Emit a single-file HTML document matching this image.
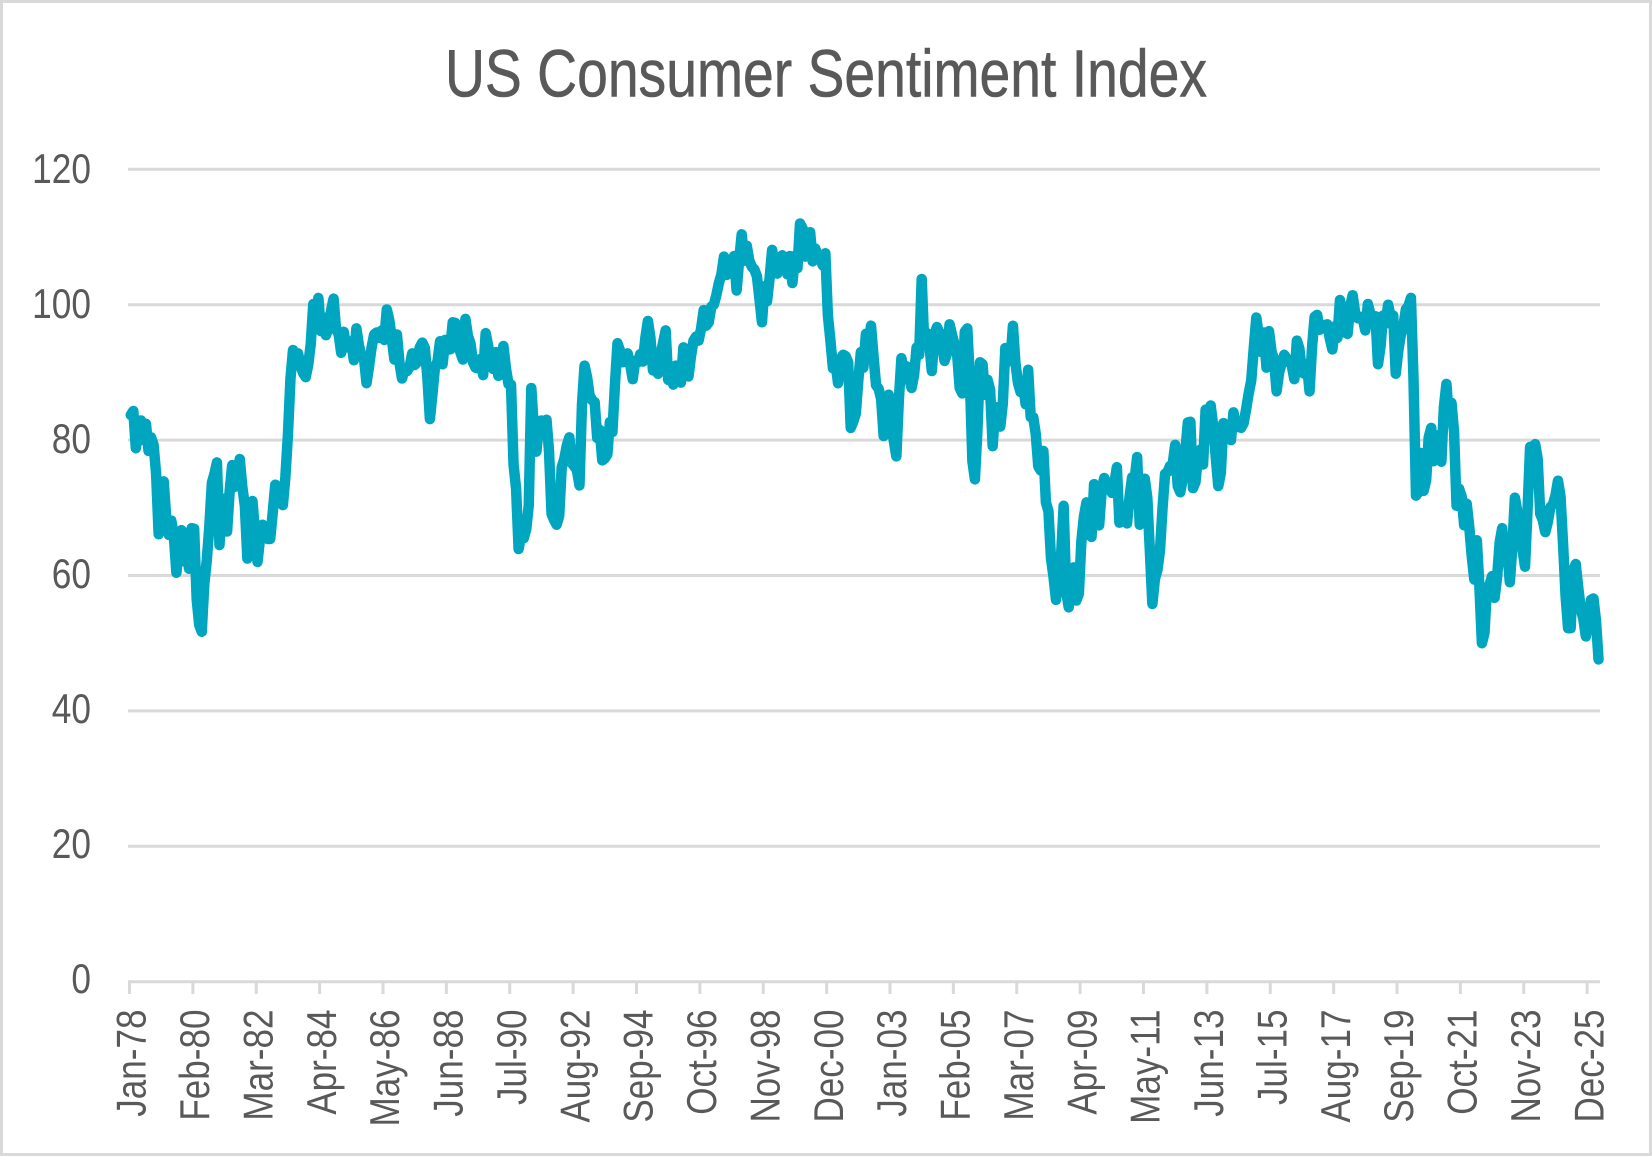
<!DOCTYPE html>
<html lang="en">
<head>
<meta charset="utf-8">
<title>US Consumer Sentiment Index</title>
<style>
html,body{margin:0;padding:0;background:#fff;}
svg{display:block;font-family:"Liberation Sans",Arial,sans-serif;}
</style>
</head>
<body>
<svg id="chart" xmlns="http://www.w3.org/2000/svg" width="1652" height="1157" viewBox="0 0 1652 1157">
  <rect x="1.5" y="1.5" width="1649" height="1153" fill="#ffffff" stroke="#d9d9d9" stroke-width="3"/>
  <text x="445" y="96.7" font-size="67" fill="#595959" stroke="#595959" stroke-width="0.6" textLength="762" lengthAdjust="spacingAndGlyphs">US Consumer Sentiment Index</text>
  <g id="grid"></g>
  <g id="yaxis"></g>
  <g id="xaxis"></g>
  <g id="series"></g>
</svg>
<script>
var yTicks = [0, 20, 40, 60, 80, 100, 120];
var xTickLabels = ["Jan-78","Feb-80","Mar-82","Apr-84","May-86","Jun-88","Jul-90","Aug-92","Sep-94","Oct-96","Nov-98","Dec-00","Jan-03","Feb-05","Mar-07","Apr-09","May-11","Jun-13","Jul-15","Aug-17","Sep-19","Oct-21","Nov-23","Dec-25"];
var monthsPerTick = 25;
var sentimentValues = [
83.7,84.3,78.8,81.6,82.9,80.0,82.4,78.4,80.4,79.3,75.0,66.1,
72.1,73.9,68.4,66.0,68.1,65.8,60.4,64.5,66.7,62.1,63.3,61.0,
67.0,66.9,56.5,52.7,51.7,58.7,62.3,67.3,73.7,75.0,76.7,64.5,
71.4,66.9,66.5,72.4,76.3,73.1,74.1,77.2,73.1,70.3,62.5,64.3,
71.0,66.5,62.0,65.5,67.5,65.7,65.4,65.4,69.3,73.4,72.1,71.9,
70.4,74.6,80.8,89.1,93.3,92.2,92.8,90.9,89.9,89.3,91.1,94.2,
100.1,97.4,101.0,96.1,98.1,95.5,96.6,99.1,100.9,96.3,95.7,92.9,
96.0,93.7,93.7,94.6,91.8,96.5,94.0,92.4,92.1,88.4,90.9,93.7,
95.6,95.9,95.1,96.2,94.8,99.3,97.7,94.9,91.9,95.6,91.4,89.1,
90.4,90.2,90.8,92.8,91.1,91.5,93.7,94.4,93.6,89.3,83.1,86.8,
90.8,91.6,94.6,91.2,94.8,94.7,93.4,97.4,97.3,94.1,93.0,91.9,
97.9,95.4,94.3,91.5,90.7,90.6,92.0,89.6,95.8,93.9,90.9,90.5,
93.0,89.5,91.3,93.9,90.6,88.3,88.2,76.4,72.8,63.9,66.0,65.5,
66.8,70.4,87.7,81.8,78.3,82.1,82.9,82.0,83.0,78.3,69.1,68.2,
67.5,68.8,76.0,77.2,79.2,80.4,76.6,76.1,75.6,73.3,85.3,91.0,
89.3,86.6,85.9,85.6,80.3,81.5,77.0,77.3,77.9,82.7,81.2,88.2,
94.3,93.2,91.5,92.6,92.8,91.2,89.0,91.7,91.5,92.7,91.6,95.1,
97.6,95.1,90.3,92.5,89.8,92.7,94.4,96.2,88.9,90.2,88.2,91.0,
89.3,88.5,93.7,92.7,89.4,92.4,94.7,95.3,94.7,96.5,99.2,96.9,
97.4,99.7,100.0,101.4,103.2,104.5,107.1,104.4,106.0,105.6,107.2,102.1,
106.6,110.4,106.5,108.7,106.5,105.6,105.2,104.2,100.9,97.4,102.7,100.5,
103.9,108.1,105.7,104.6,106.8,107.3,106.0,104.5,107.2,103.2,107.2,105.4,
112.0,111.3,107.1,109.2,110.7,106.4,108.3,107.3,106.8,105.8,107.6,98.4,
94.7,90.6,91.5,88.4,92.0,92.6,92.4,91.5,81.8,82.7,83.9,88.8,
93.0,90.7,95.7,93.0,96.9,92.4,88.1,87.6,86.1,80.6,84.2,86.7,
82.4,79.9,77.6,86.0,92.1,89.7,90.9,89.3,87.7,89.6,93.7,92.6,
103.8,94.4,95.8,94.2,90.2,95.6,96.7,95.9,94.2,91.7,92.8,97.1,
95.5,94.1,92.6,87.7,86.9,96.0,96.5,89.1,76.9,74.2,81.6,91.5,
91.2,86.7,88.9,87.4,79.1,84.9,84.7,82.0,85.4,93.6,92.1,91.7,
96.9,91.3,88.4,87.1,88.3,85.3,90.4,83.4,83.4,80.9,76.1,75.5,
78.4,70.8,69.5,62.6,59.8,56.4,61.2,63.0,70.3,57.6,55.3,60.1,
61.2,56.3,57.3,65.1,68.7,70.8,66.0,65.7,73.5,70.6,67.4,72.5,
74.4,73.6,73.6,72.2,73.6,76.0,67.8,68.9,68.2,67.7,71.6,74.5,
74.2,77.5,67.5,69.8,74.3,71.5,63.7,55.8,59.5,60.8,63.7,69.9,
75.0,75.3,76.2,76.4,79.3,73.2,72.3,74.3,78.3,82.6,82.7,72.9,
73.8,77.6,78.6,76.4,84.5,84.1,85.1,82.1,77.5,73.2,75.1,82.5,
81.2,81.6,80.0,84.1,81.9,82.5,81.8,82.5,84.6,86.9,88.8,93.6,
98.1,95.4,93.0,95.9,90.7,96.1,93.1,91.9,87.2,90.0,91.3,92.6,
92.0,91.7,91.0,89.0,94.7,93.5,90.0,89.8,91.2,87.2,93.8,98.2,
98.5,96.3,96.9,97.0,97.1,95.0,93.4,96.8,95.1,100.7,98.5,95.9,
95.7,99.7,101.4,98.8,98.0,98.2,97.9,96.2,100.1,98.6,97.5,98.3,
91.2,93.8,98.4,97.2,100.0,98.2,98.4,89.8,93.2,95.5,96.8,99.3,
99.8,101.0,89.1,71.8,72.3,78.1,72.5,74.1,80.4,81.8,76.9,80.7,
79.0,76.8,84.9,88.3,82.9,85.5,81.2,70.3,72.8,71.7,67.4,70.6,
67.2,62.8,59.4,65.2,58.4,50.0,51.5,58.2,58.6,59.9,56.7,59.8,
64.9,67.0,62.0,63.7,59.0,64.2,71.5,69.4,67.9,63.8,61.3,69.7,
79.0,76.9,79.4,77.2,69.1,68.2,66.4,67.9,70.1,70.5,71.8,74.0,
71.7,64.7,57.0,52.2,52.2,60.7,61.7,58.2,55.1,53.6,51.0,52.9,
56.4,56.6,53.3,47.6
];

var SVG_NS = 'http://www.w3.org/2000/svg';
var plotLeft = 129.5, plotRight = 1600, monthStep = 2.535;
var baseY = 981.7, unitY = 6.77;

function tickX(i) { return plotLeft + i * monthStep; }
function xScale(i) { return plotLeft + (i + 0.5) * monthStep; }
function yScale(v) { return baseY - v * unitY; }
function yLabelPos(v) { return 992.8 - v * 6.75; }
function make(tag, attrs, parent) {
  var el = document.createElementNS(SVG_NS, tag);
  for (var k in attrs) { el.setAttribute(k, attrs[k]); }
  parent.appendChild(el);
  return el;
}

var gridGroup = document.getElementById('grid');
var yGroup = document.getElementById('yaxis');
var xGroup = document.getElementById('xaxis');
var seriesGroup = document.getElementById('series');

yTicks.forEach(function (v) {
  var line = make('line', {x1: plotLeft - 1.5, x2: plotRight, y1: yScale(v), y2: yScale(v), stroke: '#d9d9d9', 'stroke-width': 3}, gridGroup);
  
  
  var label = make('text', {'text-anchor': 'end', 'font-size': 42, fill: '#595959', transform: 'translate(91,' + yLabelPos(v) + ') scale(0.84,1)'}, yGroup);
  label.textContent = String(v);
  
  
});

xTickLabels.forEach(function (text, t) {
  var px = tickX(t * monthsPerTick);
  var tick = make('line', {x1: px, x2: px, y1: baseY, y2: 994, stroke: '#d9d9d9', 'stroke-width': 3}, xGroup);
  
  
  var label = make('text', {'text-anchor': 'end', 'font-size': 42, fill: '#595959', transform: 'translate(' + (px + 16.2) + ',1009.5) rotate(-90) scale(0.835,1)'}, xGroup);
  label.textContent = text;
  
  
});

var pathData = sentimentValues.map(function (v, i) {
  return (i ? 'L' : 'M') + xScale(i).toFixed(2) + ' ' + yScale(v).toFixed(2);
}).join(' ');
var seriesLine = make('path', {d: pathData, fill: 'none', stroke: '#00a5bf', 'stroke-width': 10.5, 'stroke-linejoin': 'round', 'stroke-linecap': 'round'}, seriesGroup);


</script>
</body>
</html>
